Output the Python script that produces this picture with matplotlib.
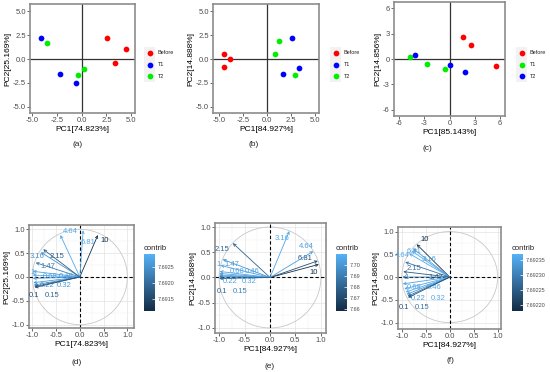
"""PCA score plots (a-c) and variable correlation circles (d-f)."""
import matplotlib
matplotlib.use("Agg")
import matplotlib.pyplot as plt
from matplotlib.colors import LinearSegmentedColormap, Normalize
from matplotlib.cm import ScalarMappable
from matplotlib.patches import Circle, Rectangle
from matplotlib.ticker import FormatStrFormatter, MultipleLocator

plt.rcParams['font.family'] = ['Liberation Sans', 'DejaVu Sans']

# ---- score plots ----
groups = ["Before", "T1", "T2"]
a_colors = ["#ff0000", "#0000ff", "#00ee00"]
c_colors = ["#ff0000", "#00ee00", "#0000ff"]

a_pc1 = {"Before": [2.53, 4.49, 3.34], "T1": [-4.16, -2.2, -0.61], "T2": [-3.55, 0.24, -0.34]}
a_pc2 = {"Before": [2.23, 1.08, -0.38], "T1": [2.16, -1.57, -2.54], "T2": [1.64, -1.01, -1.67]}

b_pc1 = {"Before": [-4.53, -3.87, -4.53], "T1": [2.65, 3.38, 1.71], "T2": [1.29, 0.84, 2.93]}
b_pc2 = {"Before": [0.56, 0.0, -0.87], "T1": [2.2, -0.9, -1.53], "T2": [1.85, 0.56, -1.64]}

c_pc1 = {"Before": [1.62, 2.5, 5.5], "T1": [-4.67, -2.73, -0.51], "T2": [-4.16, 0.0, 1.86]}
c_pc2 = {"Before": [2.61, 1.66, -0.87], "T1": [0.2, -0.59, -1.23], "T2": [0.44, -0.71, -1.58]}

# ---- variable plots ----
var_names = ["10", "6.81", "4.64", "3.16", "2.15", "1.47", "1",
             "0.68", "0.46", "0.32", "0.22", "0.15", "0.1"]

d_pc1 = [0.38, 0.07, -0.41, -0.82, -0.77, -0.93, -0.99, -0.99, -0.99, -0.98, -0.97, -0.96, -0.95]
d_pc2 = [0.88, 0.98, 0.88, 0.52, 0.58, 0.30, 0.12, 0.04, -0.03, -0.12, -0.17, -0.20, -0.22]
d_lab_x = [0.53, 0.17, -0.2, -0.89, -0.48, -0.68, -1.0, -0.62, -0.28, -0.34, -0.68, -0.58, -0.96]
d_lab_y = [0.76, 0.72, 0.96, 0.43, 0.43, 0.23, 0.1, 0.01, 0.01, -0.18, -0.18, -0.39, -0.39]
d_contrib = [7.6912, 7.6928, 7.6928, 7.6925, 7.6918, 7.6922, 7.6927,
             7.6927, 7.6927, 7.6926, 7.6925, 7.6919, 7.6916]

e_pc1 = [0.96, 0.94, 0.85, 0.38, -0.73, -0.93, -0.97, -0.99, -0.995, -0.998, -0.999, -1.0, -0.999]
e_pc2 = [0.26, 0.33, 0.52, 0.92, 0.68, 0.36, 0.24, 0.12, 0.08, 0.05, 0.03, 0.01, -0.02]
e_lab_x = [0.85, 0.69, 0.72, 0.23, -0.95, -0.75, -1.0, -0.65, -0.35, -0.4, -0.78, -0.59, -0.94]
e_lab_y = [0.1, 0.38, 0.62, 0.78, 0.56, 0.25, 0.25, 0.12, 0.12, -0.08, -0.08, -0.27, -0.27]
e_contrib = [7.660, 7.672, 7.703, 7.706, 7.680, 7.700, 7.703,
             7.705, 7.705, 7.705, 7.703, 7.690, 7.680]

f_pc1 = [-0.69, -0.80, -0.85, -0.76, -0.93, -0.97, -0.99, -0.98, -0.95, -0.92, -0.90, -0.88, -0.87]
f_pc2 = [0.72, 0.58, 0.52, 0.62, 0.33, 0.12, 0.0, -0.15, -0.26, -0.33, -0.38, -0.42, -0.45]
f_lab_x = [-0.53, -0.74, -1.0, -0.44, -0.74, -0.28, -0.9, -0.74, -0.32, -0.25, -0.67, -0.57, -0.96]
f_lab_y = [0.83, 0.57, 0.47, 0.38, 0.18, -0.01, -0.01, -0.23, -0.23, -0.48, -0.48, -0.67, -0.67]
f_contrib = [7.69219, 7.69236, 7.69236, 7.69234, 7.69228, 7.69225, 7.69230,
             7.69235, 7.69236, 7.69236, 7.69234, 7.69228, 7.69223]

W, H = 550, 372
TICK_C = "#4d4d4d"
BORDER_C = "#8c8c8c"
cmap = LinearSegmentedColormap.from_list("gg", ["#132B43", "#56B1F7"])


def box(left, top, w, h):
    """pixel box -> figure fraction"""
    return [left / W, 1 - (top + h) / H, w / W, h / H]


def style_axes(ax):
    for s in ax.spines.values():
        s.set_color(BORDER_C)
        s.set_linewidth(1.2)
    ax.tick_params(labelsize=5.5, labelcolor=TICK_C, length=2, width=0.6,
                   color=TICK_C, pad=1)


def score_plot(ax, pc1, pc2, colors, xlabel, ylabel, ticks, fmt):
    for g, col in zip(groups, colors):
        ax.scatter(pc1[g], pc2[g], s=17, color=col, zorder=3, linewidths=0)
    ax.axhline(0, color="#333333", lw=0.9, zorder=1)
    ax.axvline(0, color="#333333", lw=0.9, zorder=1)
    ax.set_xticks(ticks)
    ax.set_yticks(ticks)
    ax.xaxis.set_major_formatter(FormatStrFormatter(fmt))
    ax.yaxis.set_major_formatter(FormatStrFormatter(fmt))
    ax.set_xlabel(xlabel, fontsize=6, labelpad=1)
    ax.set_ylabel(ylabel, fontsize=6, labelpad=1)
    style_axes(ax)


def score_legend(left, colors):
    lax = fig.add_axes(box(left, 45, 40, 40))
    lax.set_xlim(0, 40)
    lax.set_ylim(40, 0)
    lax.axis("off")
    lax.add_patch(Rectangle((1, 2), 11, 35, color="#f2f2f2", lw=0))
    for i, (g, col) in enumerate(zip(groups, colors)):
        y = 8 + i * 11.5
        lax.scatter([6.5], [y], s=17, color=col, linewidths=0)
        lax.text(15, y, g, fontsize=4, va="center", ha="left", color="#222222")


def var_plot(ax, pc1, pc2, lab_x, lab_y, contrib, vmin, vmax, xlabel, ylabel):
    norm = Normalize(vmin, vmax)
    ax.set_facecolor("white")
    ax.xaxis.set_minor_locator(MultipleLocator(0.25))
    ax.yaxis.set_minor_locator(MultipleLocator(0.25))
    ax.grid(which="major", color="#e3e3e3", lw=0.5)
    ax.grid(which="minor", color="#f0f0f0", lw=0.35)
    ax.set_axisbelow(True)
    ax.add_patch(Circle((0, 0), 1, fill=False, ec="#c8c8c8", lw=0.6))
    ax.axhline(0, color="black", lw=0.8, ls=(0, (3, 2)))
    ax.axvline(0, color="black", lw=0.8, ls=(0, (3, 2)))
    for x, y, lx, ly, name, c in zip(pc1, pc2, lab_x, lab_y, var_names, contrib):
        col = cmap(norm(c))
        ax.annotate("", xy=(x, y), xytext=(0, 0),
                    arrowprops=dict(arrowstyle="->", color=col, lw=0.6,
                                    mutation_scale=4.5, shrinkA=0, shrinkB=0))
        ax.text(lx, ly, name, color=col, fontsize=5.5, ha="center", va="center")
    ax.set_xticks([-1, -0.5, 0, 0.5, 1])
    ax.set_yticks([-1, -0.5, 0, 0.5, 1])
    ax.xaxis.set_major_formatter(FormatStrFormatter("%.1f"))
    ax.yaxis.set_major_formatter(FormatStrFormatter("%.1f"))
    ax.tick_params(which="minor", length=0)
    ax.set_xlabel(xlabel, fontsize=6, labelpad=1)
    ax.set_ylabel(ylabel, fontsize=6, labelpad=1)
    style_axes(ax)


def colorbar(left, vmin, vmax, ticks, fmt):
    fig.text(left / W, 1 - 248 / H, "contrib", fontsize=5.5, va="center",
             ha="left", color="#222222")
    cax = fig.add_axes(box(left, 254, 11, 57))
    cb = fig.colorbar(ScalarMappable(norm=Normalize(vmin, vmax), cmap=cmap), cax=cax)
    cb.outline.set_visible(False)
    cb.set_ticks(ticks)
    cb.ax.yaxis.set_major_formatter(FormatStrFormatter(fmt))
    cb.ax.tick_params(labelsize=4, labelcolor=TICK_C, length=2, color="white",
                      direction="in", width=0.5, pad=2)


fig = plt.figure(figsize=(W / 100, H / 100), dpi=100)

ax_a = fig.add_axes(box(30, 4, 105, 109))
score_plot(ax_a, a_pc1, a_pc2, a_colors, "PC1[74.823%]", "PC2[25.169%]",
           [-5, -2.5, 0, 2.5, 5], "%.1f")
ax_a.set_xlim(-5.25, 5.4)
ax_a.set_ylim(-5.64, 5.75)
score_legend(143, a_colors)

ax_b = fig.add_axes(box(213, 4, 106, 109))
score_plot(ax_b, b_pc1, b_pc2, a_colors, "PC1[84.927%]", "PC2[14.888%]",
           [-5, -2.5, 0, 2.5, 5], "%.1f")
ax_b.set_xlim(-5.65, 5.45)
ax_b.set_ylim(-5.64, 5.75)
score_legend(329, a_colors)

ax_c = fig.add_axes(box(394, 2, 111, 114))
score_plot(ax_c, c_pc1, c_pc2, c_colors, "PC1[85.143%]", "PC2[14.856%]",
           [-6, -3, 0, 3, 6], "%d")
ax_c.set_xlim(-6.6, 6.6)
ax_c.set_ylim(-6.77, 6.77)
score_legend(515, c_colors)

ax_d = fig.add_axes(box(29, 225, 105, 103))
var_plot(ax_d, d_pc1, d_pc2, d_lab_x, d_lab_y, d_contrib, 7.69112, 7.69291,
         "PC1[74.823%]", "PC2[25.169%]")
ax_d.set_xlim(-1.07, 1.14)
ax_d.set_ylim(-1.07, 1.09)
colorbar(144, 7.69112, 7.69291, [7.6915, 7.6920, 7.6925], "%.4f")

ax_e = fig.add_axes(box(215, 223, 111, 110))
var_plot(ax_e, e_pc1, e_pc2, e_lab_x, e_lab_y, e_contrib, 7.658, 7.71,
         "PC1[84.927%]", "PC2[14.868%]")
ax_e.set_xlim(-1.08, 1.1)
ax_e.set_ylim(-1.1, 1.08)
colorbar(336, 7.658, 7.71, [7.66, 7.67, 7.68, 7.69, 7.70], "%.2f")

ax_f = fig.add_axes(box(398, 227, 103, 102))
var_plot(ax_f, f_pc1, f_pc2, f_lab_x, f_lab_y, f_contrib, 7.69218, 7.69237,
         "PC1[84.927%]", "PC2[14.868%]")
ax_f.set_xlim(-1.08, 1.07)
ax_f.set_ylim(-1.14, 1.1)
colorbar(512, 7.69218, 7.69237, [7.69220, 7.69225, 7.69230, 7.69235], "%.5f")

for label, x, y in [("(a)", 78, 144), ("(b)", 254, 145), ("(c)", 427, 148),
                    ("(d)", 77, 362), ("(e)", 270, 367), ("(f)", 450, 361)]:
    fig.text(x / W, 1 - y / H, label, fontsize=6, ha="center", va="center",
             color="#222222")

fig.savefig("out.png", dpi=100)
